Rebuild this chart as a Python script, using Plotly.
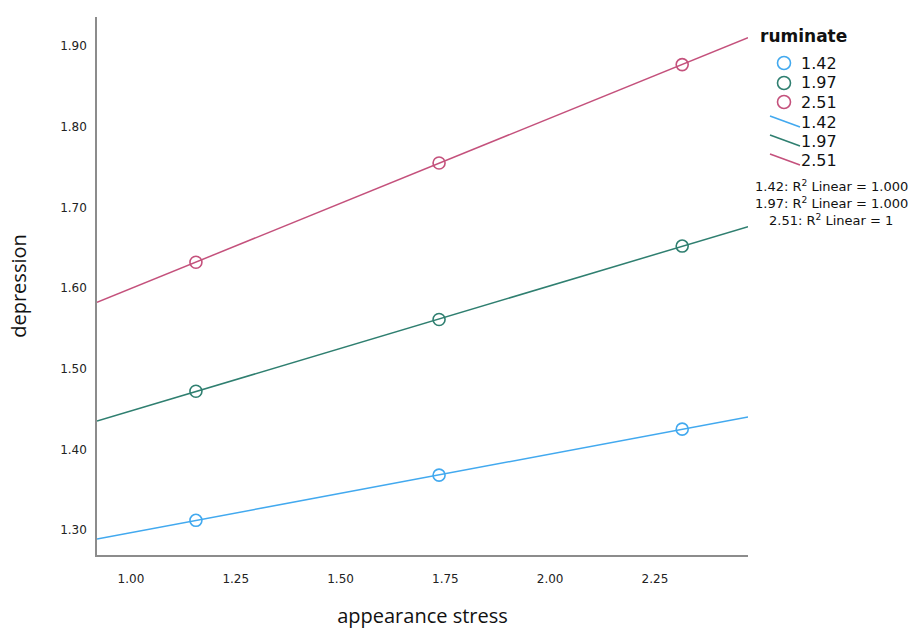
import numpy as np
import plotly.graph_objects as go

# ---- data ----
ruminate_levels = ["1.42", "1.97", "2.51"]
stress_x = [1.155, 1.735, 2.315]
dep_142 = [1.312, 1.368, 1.425]
dep_197 = [1.472, 1.561, 1.652]
dep_251 = [1.632, 1.755, 1.877]
r2_labels = ["1.42: R<sup>2</sup> Linear = 1.000",
             "1.97: R<sup>2</sup> Linear = 1.000",
             "2.51: R<sup>2</sup> Linear = 1"]
x_ticks = [1.00, 1.25, 1.50, 1.75, 2.00, 2.25]
y_ticks = [1.30, 1.40, 1.50, 1.60, 1.70, 1.80, 1.90]

colors = ["#42a9ef", "#2f7f70", "#c4517c"]
series = [dep_142, dep_197, dep_251]

X_RANGE = [0.919, 2.472]
Y_RANGE = [1.269, 1.936]

fig = go.Figure()

# fit lines (computed from data, across axis range)
for vals, col in zip(series, colors):
    slope, icpt = np.polyfit(stress_x, vals, 1)
    xs = np.array(X_RANGE)
    fig.add_trace(go.Scatter(x=xs, y=slope * xs + icpt, mode="lines",
                             line=dict(color=col, width=1.5),
                             showlegend=False, hoverinfo="skip", cliponaxis=True))
for vals, col in zip(series, colors):
    fig.add_trace(go.Scatter(x=stress_x, y=vals, mode="markers",
                             marker=dict(symbol="circle-open", size=12,
                                         color=col, line=dict(width=1.6, color=col)),
                             showlegend=False))

W, H = 914, 629
L, R, T, B = 97, 748, 17, 555


def px(x):
    return (x - L) / (R - L)


def py(y):
    return (B - y) / (B - T)


shapes = []
annotations = []
# legend title
annotations.append(dict(x=px(758), y=py(36), xref="paper", yref="paper",
                        text="<b>ruminate</b>", showarrow=False, xanchor="left",
                        yanchor="middle", font=dict(family="DejaVu Sans", size=17, color="#111")))
circle_y = [63, 83, 102]
line_y = [122, 141, 160]
for i, (lab, col) in enumerate(zip(ruminate_levels, colors)):
    shapes.append(dict(type="circle", xref="paper", yref="paper",
                       xsizemode="pixel", ysizemode="pixel",
                       xanchor=px(784), yanchor=py(circle_y[i]),
                       x0=-6.5, x1=6.5, y0=-6.5, y1=6.5,
                       line=dict(color=col, width=1.6)))
    annotations.append(dict(x=px(799), y=py(circle_y[i]), xref="paper", yref="paper",
                            text=lab, showarrow=False, xanchor="left", yanchor="middle",
                            font=dict(family="DejaVu Sans", size=16, color="#111")))
    shapes.append(dict(type="line", xref="paper", yref="paper",
                       x0=px(770), y0=py(line_y[i] - 6), x1=px(800), y1=py(line_y[i] + 5),
                       line=dict(color=col, width=1.6)))
    annotations.append(dict(x=px(799), y=py(line_y[i]), xref="paper", yref="paper",
                            text=lab, showarrow=False, xanchor="left", yanchor="middle",
                            font=dict(family="DejaVu Sans", size=16, color="#111")))
for i, t in enumerate(r2_labels):
    annotations.append(dict(x=px(831), y=py(186 + 17 * i), xref="paper", yref="paper",
                            text=t, showarrow=False, xanchor="center", yanchor="middle",
                            font=dict(family="DejaVu Sans", size=13, color="#111")))

fig.update_layout(
    width=W, height=H,
    margin=dict(l=L, r=W - R, t=T, b=H - B),
    paper_bgcolor="white", plot_bgcolor="white",
    shapes=shapes, annotations=annotations,
    showlegend=False,
    xaxis=dict(range=X_RANGE, tickvals=x_ticks, ticktext=[f"{v:.2f}" for v in x_ticks],
               showgrid=False, zeroline=False, showline=True, linecolor="#8c8c8c",
               linewidth=1.5, ticks="", ticklabelstandoff=12, automargin=False,
               tickfont=dict(family="DejaVu Sans", size=12, color="#222"),
               title=dict(text="appearance stress", standoff=30,
                          font=dict(family="Open Sans", size=20, color="#111"))),
    yaxis=dict(range=Y_RANGE, tickvals=y_ticks, ticktext=[f"{v:.2f}" for v in y_ticks],
               showgrid=False, zeroline=False, showline=True, linecolor="#8c8c8c",
               linewidth=1.5, ticks="", ticklabelstandoff=6, automargin=False,
               tickfont=dict(family="DejaVu Sans", size=12, color="#222"),
               title=dict(text="depression", standoff=28,
                          font=dict(family="Open Sans", size=20, color="#111"))),
)

fig.write_html("out.html")
